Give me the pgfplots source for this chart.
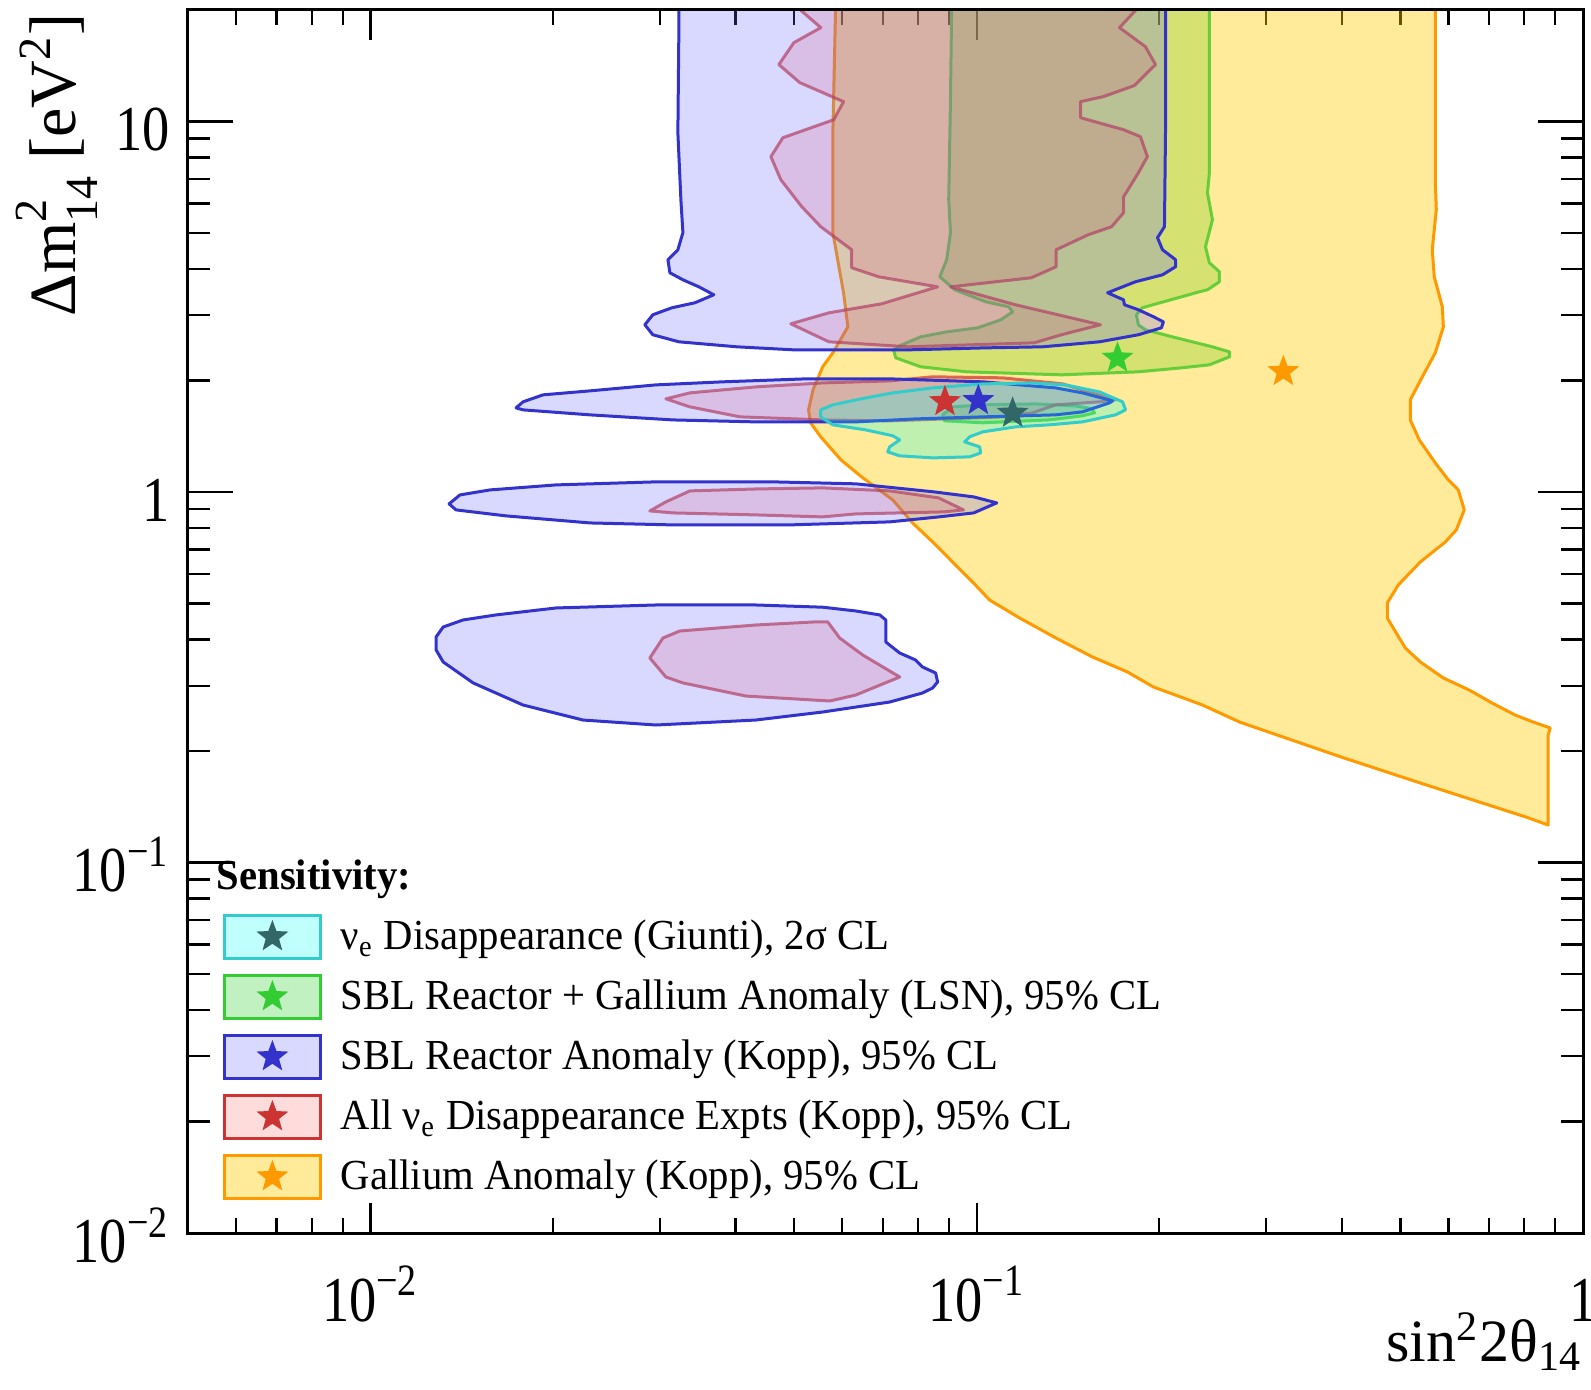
\documentclass[border=0pt]{standalone}
\usepackage{fontspec}
\setmainfont{Liberation Serif}
\newfontfamily\tickfont{Liberation Serif}[FakeStretch=0.85]
\newfontfamily\legfont{Liberation Serif}[FakeStretch=0.95]
\usepackage{pgfplots}
\pgfplotsset{compat=1.18}

% colours of the five allowed regions
\definecolor{gaEdge}{RGB}{255,153,0}
\definecolor{gaFill}{RGB}{255,204,0}
\definecolor{lsnEdge}{RGB}{70,200,40}
\definecolor{lsnFill}{RGB}{100,200,0}
\definecolor{lsnStar}{RGB}{51,204,51}
\definecolor{reEdge}{RGB}{51,51,204}
\definecolor{reFill}{RGB}{102,102,255}
\definecolor{allEdge}{RGB}{204,51,51}
\definecolor{allFill}{RGB}{255,80,80}
\definecolor{giEdge}{RGB}{51,204,204}
\definecolor{giFill}{RGB}{0,255,245}
\definecolor{giStar}{RGB}{51,102,102}

% stacked super/subscript for the axis title
\newcommand{\supsub}[2]{\rlap{\raisebox{0.45em}{\fontsize{11.5}{12}\selectfont #1}}%
  \raisebox{-0.32em}{\fontsize{11.5}{12}\selectfont #2}}

% filled five-pointed star marker
\pgfdeclareplotmark{fstar}{%
  \pgfpathmoveto{\pgfpointpolar{90}{\pgfplotmarksize}}%
  \pgfpathlineto{\pgfpointpolar{126}{0.42\pgfplotmarksize}}%
  \pgfpathlineto{\pgfpointpolar{162}{\pgfplotmarksize}}%
  \pgfpathlineto{\pgfpointpolar{198}{0.42\pgfplotmarksize}}%
  \pgfpathlineto{\pgfpointpolar{234}{\pgfplotmarksize}}%
  \pgfpathlineto{\pgfpointpolar{270}{0.42\pgfplotmarksize}}%
  \pgfpathlineto{\pgfpointpolar{306}{\pgfplotmarksize}}%
  \pgfpathlineto{\pgfpointpolar{342}{0.42\pgfplotmarksize}}%
  \pgfpathlineto{\pgfpointpolar{18}{\pgfplotmarksize}}%
  \pgfpathlineto{\pgfpointpolar{54}{0.42\pgfplotmarksize}}%
  \pgfpathclose\pgfusepathqfill}

% legend swatch: box plus star
\newcommand{\legswatch}[4]{%
  \draw[line width=0.7pt, draw=#1, fill=#2, fill opacity=#3] (0pt,-5.4pt) rectangle (24pt,5.4pt);
  \begin{scope}[shift={(12pt,0pt)}]
    \pgfsetfillcolor{#4}\pgfplotmarksize=4.2pt\pgfuseplotmark{fstar}
  \end{scope}}

\tikzset{
  region/.style={line width=0.75pt, line join=round},
  gaR/.style={region, draw=gaEdge, fill=gaFill, fill opacity=0.4},
  lsnR/.style={region, draw=lsnEdge, draw opacity=0.8, fill=lsnFill, fill opacity=0.27},
  reR/.style={region, draw=reEdge, fill=reFill, fill opacity=0.25},
  allR/.style={region, draw=allEdge, draw opacity=0.7, fill=allFill, fill opacity=0.2},
  giR/.style={region, draw=giEdge, fill=giFill, fill opacity=0.25},
}

\begin{document}
\begin{tikzpicture}
\begin{axis}[
  at={(0,0)}, anchor=south west,
  scale only axis, width=348.75pt, height=305.75pt,
  xmode=log, ymode=log,
  xmin=0.005, xmax=1, ymin=0.01, ymax=20,
  axis line style={line width=0.75pt},
  every tick/.style={black, line width=0.6pt},
  tick align=inside,
  major tick length=7.5pt, minor tick length=3.75pt,
  xtick={0.01,0.1,1},
  minor xtick={0.006,0.007,0.008,0.009,0.02,0.03,0.04,0.05,0.06,0.07,0.08,0.09,0.2,0.3,0.4,0.5,0.6,0.7,0.8,0.9},
  xticklabels={10\textsuperscript{−2},10\textsuperscript{−1},1},
  xticklabel style={font=\tickfont\fontsize{16}{18}\selectfont, anchor=base, inner sep=0pt, yshift=-22pt},
  ytick=\empty, yminorticks=false,
  xlabel={sin\textsuperscript{2}2θ\textsubscript{14}},
  xlabel style={at={(rel axis cs:1,0)}, anchor=base east, inner sep=0pt, yshift=-32.2pt,
    font=\fontsize{15}{18}\selectfont},
  legend style={at={(rel axis cs:0.0251,0.2625)}, anchor=north west, draw=none, fill=none,
    inner sep=0pt, outer sep=0pt, row sep=2.6pt, column sep=4.75pt,
    font=\legfont\fontsize{10.7}{12.8}\selectfont,
    nodes={inner sep=0pt, text depth=2.9pt, text height=9.5pt}},
  legend cell align=left,
]

% Gallium anomaly (Kopp), 95% CL
\addplot[gaR, forget plot] coordinates {
(0.0583,25) (0.0585,20.06) (0.0579,9.33) (0.0579,5.01) (0.0603,3.45) (0.0613,2.79)
(0.0579,2.375) (0.0557,2.177) (0.0537,1.887) (0.0528,1.666) (0.0532,1.537) (0.0553,1.409)
(0.0597,1.221) (0.0646,1.098) (0.0727,0.952) (0.0784,0.825) (0.0849,0.729) (0.0916,0.643)
(0.0988,0.568) (0.1050,0.511) (0.1177,0.457) (0.1349,0.404) (0.1552,0.3587) (0.1773,0.3267)
(0.1957,0.2976) (0.2357,0.2661) (0.2713,0.2394) (0.3993,0.1926) (0.5330,0.1649) (0.6592,0.1474)
(0.8059,0.1326) (0.8762,0.1262) (0.8762,0.2208) (0.8829,0.2307) (0.8275,0.2394) (0.7728,0.2501)
(0.7083,0.2694) (0.6491,0.2921) (0.5884,0.3148) (0.5391,0.3477) (0.5092,0.3793) (0.4920,0.4164)
(0.4755,0.457) (0.4755,0.5017) (0.4958,0.5612) (0.5391,0.6474) (0.5928,0.7331) (0.6180,0.790)
(0.6370,0.8947) (0.6227,1.013) (0.5997,1.078) (0.5706,1.198) (0.5370,1.382) (0.5189,1.565)
(0.5189,1.773) (0.5432,2.046) (0.5706,2.375) (0.5884,2.79) (0.5861,3.16) (0.5684,3.81)
(0.5641,4.505) (0.5728,5.78) (0.5706,6.96) (0.5706,20.06) (0.5706,25)
} -- cycle;

% SBL reactor + gallium anomaly (LSN), 95% CL
\addplot[lsnR, forget plot] coordinates {
(0.0909,25) (0.0909,20.06) (0.0905,11.44) (0.0899,6.15) (0.0905,5.01) (0.0892,4.235)
(0.0869,3.81) (0.0920,3.513) (0.1034,3.262) (0.1129,3.16) (0.1146,3.064) (0.1095,2.915)
(0.1003,2.774) (0.0892,2.706) (0.0808,2.623) (0.0752,2.495) (0.0729,2.419) (0.0735,2.302)
(0.0808,2.177) (0.0962,2.110) (0.1380,2.071) (0.1848,2.110) (0.2184,2.164) (0.2420,2.204)
(0.2612,2.316) (0.2612,2.389) (0.2448,2.465) (0.2103,2.623) (0.1898,2.740) (0.1848,2.826)
(0.1834,3.007) (0.1876,3.142) (0.2330,3.470) (0.2402,3.513) (0.2514,3.693) (0.2514,3.929)
(0.2420,4.156) (0.2384,4.591) (0.2448,5.43) (0.2402,6.42) (0.2420,7.27) (0.2420,11.44)
(0.2420,20.06) (0.2420,25)
} -- cycle;
\addplot[lsnR, forget plot] coordinates {
(0.08785,1.615) (0.0912,1.697) (0.1023,1.719) (0.1250,1.729) (0.1455,1.708) (0.1552,1.677)
(0.1564,1.635) (0.1494,1.605) (0.1318,1.565) (0.1023,1.537) (0.08850,1.556)
} -- cycle;

% all nu_e disappearance experiments (Kopp), 95% CL
\addplot[allR, forget plot] coordinates {
(0.05106,25) (0.05106,20.06) (0.0553,17.92) (0.04992,16.32) (0.04716,14.24) (0.05106,12.73)
(0.0603,11.31) (0.05810,10.11) (0.04788,9.04) (0.04575,8.035) (0.04752,6.96) (0.05145,5.887)
(0.0553,5.199) (0.06220,4.506) (0.06220,4.029) (0.06891,3.809) (0.08617,3.579) (0.06970,3.221)
(0.05701,3.045) (0.04935,2.844) (0.05701,2.543) (0.07723,2.465) (0.1244,2.527) (0.1380,2.657)
(0.1600,2.827) (0.1159,3.201) (0.09057,3.579) (0.1230,3.786) (0.1352,4.054) (0.1352,4.506)
(0.1528,4.947) (0.1669,5.199) (0.1747,5.672) (0.1747,6.265) (0.1848,7.27) (0.1912,8.035)
(0.1862,9.10) (0.1747,9.50) (0.1483,10.24) (0.1483,11.31) (0.1618,11.67) (0.1820,12.50)
(0.1972,14.24) (0.1898,15.92) (0.1720,17.92) (0.1834,20.06) (0.1834,25)
} -- cycle;
\addplot[allR, forget plot] coordinates {
(0.03070,1.784) (0.03364,1.852) (0.04321,1.922) (0.05572,1.970) (0.07185,1.995) (0.08457,2.046)
(0.1103,2.033) (0.1385,1.958) (0.1694,1.773) (0.1594,1.751) (0.1349,1.719) (0.1236,1.635)
(0.1103,1.595) (0.07185,1.556) (0.05572,1.565) (0.04067,1.595) (0.03364,1.697)
} -- cycle;
\addplot[allR, forget plot] coordinates {
(0.02889,0.8890) (0.03070,0.9403) (0.03364,1.007) (0.04321,1.019) (0.05572,1.026) (0.07185,1.007)
(0.08653,0.9640) (0.0951,0.8947) (0.08818,0.8836) (0.06316,0.8726) (0.05572,0.8565) (0.04321,0.8672)
(0.03154,0.878)
} -- cycle;
\addplot[allR, forget plot] coordinates {
(0.02889,0.3565) (0.03036,0.4036) (0.03237,0.4216) (0.04321,0.4376) (0.05366,0.4458) (0.05680,0.4458)
(0.05943,0.4036) (0.06486,0.3632) (0.07467,0.3167) (0.06316,0.2831) (0.05724,0.2728) (0.04161,0.2813)
(0.03276,0.3052) (0.03070,0.3167)
} -- cycle;

% SBL reactor anomaly (Kopp), 95% CL
\addplot[reR, forget plot] coordinates {
(0.03226,25) (0.03226,17.38) (0.03214,9.33) (0.03251,6.15) (0.03276,5.01) (0.03214,4.506)
(0.03095,4.235) (0.03118,3.905) (0.03276,3.739) (0.03481,3.579) (0.03684,3.406) (0.03428,3.241)
(0.03142,3.142) (0.02922,3.008) (0.02835,2.827) (0.02922,2.657) (0.03226,2.543) (0.04021,2.465)
(0.04992,2.419) (0.07723,2.419) (0.1034,2.449) (0.1284,2.465) (0.1594,2.543) (0.1848,2.657)
(0.2017,2.774) (0.2032,2.879) (0.1957,2.971) (0.1848,3.103) (0.1753,3.201) (0.1746,3.302)
(0.1644,3.449) (0.1827,3.693) (0.2025,3.857) (0.2128,4.054) (0.2128,4.235) (0.2025,4.506)
(0.1987,4.857) (0.2040,5.199) (0.2048,9.33) (0.2048,25)
} -- cycle;
\addplot[reR, forget plot] coordinates {
(0.01738,1.687) (0.01785,1.751) (0.01926,1.829) (0.02302,1.875) (0.02956,1.946) (0.03812,1.983)
(0.05224,2.020) (0.07185,2.020) (0.1023,1.983) (0.1349,1.910) (0.1494,1.852) (0.1675,1.762)
(0.1656,1.740) (0.1494,1.645) (0.1349,1.615) (0.1023,1.595) (0.07929,1.575) (0.06316,1.546)
(0.04321,1.546) (0.03154,1.565) (0.02302,1.615) (0.01785,1.666)
} -- cycle;
\addplot[reR, forget plot] coordinates {
(0.01348,0.9287) (0.01405,0.9821) (0.01575,1.013) (0.02023,1.045) (0.02956,1.065) (0.04608,1.065)
(0.06316,1.052) (0.08489,1.001) (0.09883,0.970) (0.1079,0.9345) (0.09883,0.878) (0.08653,0.8565)
(0.07185,0.8305) (0.04914,0.815) (0.03154,0.815) (0.02302,0.825) (0.01673,0.862) (0.01384,0.8947)
} -- cycle;
\addplot[reR, forget plot] coordinates {
(0.01283,0.4062) (0.01318,0.4322) (0.01422,0.4515) (0.01611,0.4658) (0.02023,0.4864) (0.02956,0.4955)
(0.04321,0.4955) (0.05572,0.4887) (0.06316,0.4774) (0.06918,0.4658) (0.07079,0.4515) (0.07079,0.3937)
(0.07464,0.3677) (0.07929,0.3520) (0.08142,0.3370) (0.08555,0.3247) (0.08620,0.3071) (0.08457,0.2958)
(0.08142,0.2868) (0.07185,0.2711) (0.05572,0.2548) (0.04321,0.2424) (0.02956,0.2350) (0.02241,0.2424)
(0.01785,0.2661) (0.01477,0.3052) (0.01318,0.3477) (0.01283,0.3747)
} -- cycle;

% nu_e disappearance (Giunti), 2 sigma CL
\addplot[giR, forget plot] coordinates {
(0.05528,1.666) (0.05790,1.719) (0.06562,1.795) (0.07271,1.852) (0.08457,1.910) (0.1023,1.958)
(0.1236,1.970) (0.1401,1.946) (0.1594,1.863) (0.1740,1.751) (0.1760,1.666) (0.1694,1.615)
(0.1494,1.546) (0.1318,1.518) (0.1159,1.499) (0.1023,1.453) (0.09734,1.409) (0.09550,1.366)
(0.1011,1.324) (0.1015,1.275) (0.09734,1.244) (0.08457,1.236) (0.07464,1.252) (0.07131,1.283)
(0.07185,1.324) (0.07464,1.382) (0.07271,1.418) (0.06562,1.471) (0.05790,1.518) (0.05528,1.595)
} -- cycle;

% best-fit points
\addplot[only marks, mark=fstar, mark size=4.2pt, color=gaEdge, forget plot] coordinates {(0.3204,2.114)};
\addplot[only marks, mark=fstar, mark size=4.2pt, color=lsnStar, forget plot] coordinates {(0.1707,2.298)};
\addplot[only marks, mark=fstar, mark size=4.2pt, color=allEdge, forget plot] coordinates {(0.08862,1.754)};
\addplot[only marks, mark=fstar, mark size=4.2pt, color=reEdge, forget plot] coordinates {(0.1006,1.766)};
\addplot[only marks, mark=fstar, mark size=4.2pt, color=giStar, forget plot] coordinates {(0.1146,1.632)};

% legend
\addlegendimage{legend image code/.code={\legswatch{giEdge}{giFill}{0.25}{giStar}}}
\addlegendentry{ν\textsubscript{e} Disappearance (Giunti), 2σ CL}
\addlegendimage{legend image code/.code={\legswatch{lsnStar}{lsnStar}{0.3}{lsnStar}}}
\addlegendentry{SBL Reactor + Gallium Anomaly (LSN), 95\% CL}
\addlegendimage{legend image code/.code={\legswatch{reEdge}{reFill}{0.25}{reEdge}}}
\addlegendentry{SBL Reactor Anomaly (Kopp), 95\% CL}
\addlegendimage{legend image code/.code={\legswatch{allEdge}{allFill}{0.2}{allEdge}}}
\addlegendentry{All ν\textsubscript{e} Disappearance Expts (Kopp), 95\% CL}
\addlegendimage{legend image code/.code={\legswatch{gaEdge}{gaFill}{0.4}{gaEdge}}}
\addlegendentry{Gallium Anomaly (Kopp), 95\% CL}

\node[anchor=base west, inner sep=0pt, font=\legfont\bfseries\fontsize{10.7}{12.8}\selectfont]
  at (rel axis cs:0.0201,0.2805) {Sensitivity:};
\end{axis}

% second layer: the y ticks, their labels and the y title
\begin{axis}[
  at={(0,0)}, anchor=south west,
  scale only axis, width=348.75pt, height=305.75pt,
  xmode=log, ymode=log,
  xmin=0.005, xmax=1, ymin=0.01, ymax=20,
  axis line style={line width=0.75pt},
  every tick/.style={black, line width=0.6pt},
  tick align=inside,
  major tick length=11.25pt, minor tick length=5.5pt,
  xtick=\empty, xminorticks=false,
  ytick={0.01,0.1,1,10},
  minor ytick={0.02,0.03,0.04,0.05,0.06,0.07,0.08,0.09,0.2,0.3,0.4,0.5,0.6,0.7,0.8,0.9,2,3,4,5,6,7,8,9,20},
  yticklabels={10\textsuperscript{−2},10\textsuperscript{−1},1,10},
  yticklabel style={font=\tickfont\fontsize{16}{18}\selectfont, anchor=base east, inner sep=0pt,
    xshift=-4.4pt, yshift=-7.3pt},
  ylabel={Δm\supsub{2}{14} [eV\textsuperscript{2}]},
  ylabel style={at={(rel axis cs:0,1)}, anchor=base east, inner sep=0pt, yshift=28pt, xshift=-0.75pt,
    font=\fontsize{16.5}{18}\selectfont},
]
\end{axis}
\pgfresetboundingbox
\path[use as bounding box] (-47pt,-39pt) rectangle (350.75pt,308.25pt);
\end{tikzpicture}
\end{document}
